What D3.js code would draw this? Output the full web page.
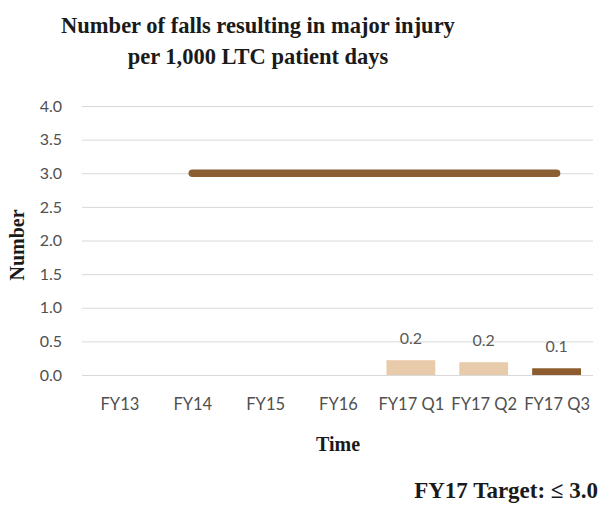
<!DOCTYPE html>
<html><head><meta charset="utf-8">
<script src="https://cdn.jsdelivr.net/npm/d3@7"></script>
<style>body{margin:0;background:#fff}</style>
</head><body><svg id="c" width="603" height="512"></svg>
<script>
const categories = ["FY13","FY14","FY15","FY16","FY17 Q1","FY17 Q2","FY17 Q3"];
const barValues = [null,null,null,null,0.22,0.19,0.10];
const barLabels = [null,null,null,null,"0.2","0.2","0.1"];
const barColors = [null,null,null,null,"#e8cbab","#e8cbab","#8c5b2e"];
const targetValues = [null,3.0,3.0,3.0,3.0,3.0,3.0];
const yTicks = [0,0.5,1,1.5,2,2.5,3,3.5,4];

const svg = d3.select("#c");
const x = d3.scaleBand().domain(categories).range([83,593]).paddingInner(0.33).paddingOuter(0.165);
const xc = d3.scalePoint().domain(categories).range([83,593]).padding(0.5);
const y = d3.scaleLinear().domain([0,4]).range([375,106]);

const serif = "'Liberation Serif', 'DejaVu Serif', serif";
const sans = "Lato, 'Open Sans', sans-serif";

// gridlines
const yAxis = d3.axisLeft(y).tickValues(yTicks).tickFormat(d3.format(".1f")).tickSize(-(593-82)).tickPadding(20);
const ga = svg.append("g").attr("transform","translate(82,0)").call(yAxis);
ga.select(".domain").remove();
ga.selectAll(".tick line").attr("stroke","#d9d9d9").attr("stroke-width",1);
ga.selectAll(".tick text").attr("fill","#505050").style("font-family",sans).style("font-size","16px");

// bars
const bdata = categories.map((c,i)=>({c,v:barValues[i],l:barLabels[i],col:barColors[i]})).filter(d=>d.v!=null);
svg.selectAll("rect.bar").data(bdata).enter().append("rect")
  .attr("x",d=>x(d.c)).attr("width",x.bandwidth())
  .attr("y",d=>y(d.v)).attr("height",d=>y(0)-y(d.v))
  .attr("fill",d=>d.col);
svg.selectAll("text.bl").data(bdata).enter().append("text")
  .attr("x",d=>x(d.c)+x.bandwidth()/2).attr("y",d=>y(d.v)-16)
  .attr("text-anchor","middle").attr("fill","#595959")
  .style("font-family",sans).style("font-size","16px").text(d=>d.l);

// target line
const tdata = categories.map((c,i)=>({c,v:targetValues[i]})).filter(d=>d.v!=null);
svg.append("path").datum(tdata)
  .attr("d",d3.line().x(d=>xc(d.c)).y(d=>y(d.v)))
  .attr("fill","none").attr("stroke","#8c5f33").attr("stroke-width",7.5).attr("stroke-linecap","round");

// x axis labels
const xa = svg.append("g").attr("transform","translate(0,375)").call(d3.axisBottom(xc).tickSize(0).tickPadding(23));
xa.select(".domain").remove();
xa.selectAll(".tick text").attr("fill","#505050").style("font-family",sans).style("font-size","16.5px");

// titles
const title = svg.append("text").attr("text-anchor","middle").attr("fill","#1a1a1a")
  .style("font-family",serif).style("font-weight","bold").style("font-size","22.5px");
title.append("tspan").attr("x",258).attr("y",33).text("Number of falls resulting in major injury");
title.append("tspan").attr("x",258).attr("y",64).text("per 1,000 LTC patient days");

svg.append("text").attr("transform","translate(24,245) rotate(-90)").attr("text-anchor","middle")
  .attr("fill","#1a1a1a").style("font-family",serif).style("font-weight","bold").style("font-size","20px").text("Number");
svg.append("text").attr("x",338).attr("y",451).attr("text-anchor","middle")
  .attr("fill","#1a1a1a").style("font-family",serif).style("font-weight","bold").style("font-size","20px").text("Time");
svg.append("text").attr("x",598).attr("y",498).attr("text-anchor","end")
  .attr("fill","#1a1a1a").style("font-family",serif).style("font-weight","bold").style("font-size","23px").text("FY17 Target: ≤ 3.0");
</script></body></html>
